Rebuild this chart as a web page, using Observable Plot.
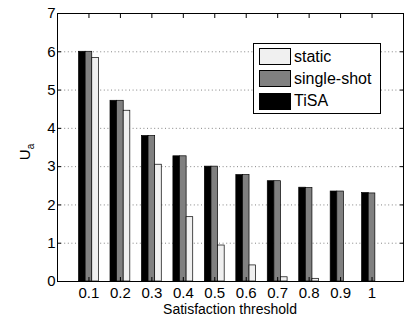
<!DOCTYPE html>
<html><head><meta charset="utf-8">
<script src="https://cdn.jsdelivr.net/npm/d3@7"></script>
<script src="https://cdn.jsdelivr.net/npm/@observablehq/plot@0.6"></script>
<style>
body{margin:0;background:#fff;}
#wrap{position:relative;width:408px;height:322px;font-family:"Liberation Sans",Arial,Helvetica,sans-serif;}
#legend{position:absolute;left:253px;top:43px;width:128px;height:71px;border:1px solid #000;background:#fff;box-sizing:border-box;font-size:16px;}
.row{position:absolute;left:5px;height:17px;display:flex;align-items:center;white-space:nowrap;}
.sw{width:32px;height:17px;border:1px solid #000;box-sizing:border-box;margin-right:3px;flex:none;}
</style></head><body><div id="wrap"></div>
<script>
const thresholds = ["0.1","0.2","0.3","0.4","0.5","0.6","0.7","0.8","0.9","1"];
const seriesNames = ["TiSA","single-shot","static"];
const tisa       = [6.00,4.72,3.80,3.27,3.00,2.78,2.62,2.45,2.35,2.31];
const singleShot = [6.00,4.72,3.80,3.27,3.00,2.78,2.62,2.44,2.35,2.30];
const staticVals = [5.84,4.46,3.05,1.68,0.94,0.42,0.11,0.07,0.00,0.00];
const yTicks = [0,1,2,3,4,5,6,7];
const seriesColors = ["#000000","#808080","#f0f0f0"];

const barW = 0.21;
const valuesBySeries = [tisa, singleShot, staticVals];
const table = [];
thresholds.forEach((t, i) => {
  valuesBySeries.forEach((vals, s) => {
    const c = i + 1 + (s - 1) * barW;
    table.push({threshold: t, series: seriesNames[s], value: vals[i], x1: c - barW / 2, x2: c + barW / 2});
  });
});
const xTickPos = thresholds.map((t, i) => i + 1);

const chart = Plot.plot({
  width: 408, height: 322,
  marginLeft: 57, marginRight: 5, marginTop: 13, marginBottom: 41,
  style: {fontFamily: "Liberation Sans, Arial, Helvetica, sans-serif", fontSize: "14px", color: "#000", background: "#fff", overflow: "visible"},
  x: {domain: [0, 11]},
  y: {domain: [0, 7]},
  color: {domain: seriesNames, range: seriesColors},
  marks: [
    Plot.gridY({ticks: yTicks.slice(1, 7), stroke: "#666", strokeOpacity: 1, strokeWidth: 0.8, strokeDasharray: "1,2.6"}),
    Plot.rect(table.filter(d => d.value > 0), {x1: "x1", x2: "x2", y1: 0, y2: "value", fill: "series", stroke: "#000", strokeWidth: 0.7}),
    Plot.frame({stroke: "#000", strokeWidth: 1}),
    Plot.axisY({ticks: yTicks, tickSize: 0, tickPadding: 2, tickFormat: d => String(d), label: null, fontSize: 15}),
    Plot.axisY({anchor: "left", ticks: yTicks.slice(1, 7), tickSize: -4, tickFormat: () => "", label: null}),
    Plot.axisY({anchor: "right", ticks: yTicks.slice(1, 7), tickSize: -4, tickFormat: () => "", label: null}),
    Plot.axisX({ticks: xTickPos, tickSize: 0, tickPadding: 6, tickFormat: (d) => thresholds[d - 1], label: null, fontSize: 15}),
    Plot.axisX({anchor: "bottom", ticks: xTickPos, tickSize: -4, tickFormat: () => "", label: null}),
    Plot.axisX({anchor: "top", ticks: xTickPos, tickSize: -4, tickFormat: () => "", label: null})
  ]
});

const wrap = document.getElementById("wrap");
wrap.appendChild(chart);

// x-axis title
d3.select(chart).append("text")
  .attr("x", 230).attr("y", 314)
  .attr("text-anchor", "middle")
  .attr("font-size", 14)
  .attr("fill", "#000")
  .text("Satisfaction threshold");

// y-axis title U_a
const yl = d3.select(chart).append("text")
  .attr("transform", "translate(29.5,152) rotate(-90)")
  .attr("text-anchor", "middle")
  .attr("font-size", 15)
  .attr("fill", "#000");
yl.append("tspan").text("U");
yl.append("tspan").attr("font-size", 10).attr("dy", 4).text("a");

// legend (order as in reference)
const legend = document.createElement("div");
legend.id = "legend";
const legendOrder = ["static", "single-shot", "TiSA"];
legendOrder.forEach((name, k) => {
  const row = document.createElement("div");
  row.className = "row";
  row.style.top = (4 + k * 22.3) + "px";
  const sw = document.createElement("div");
  sw.className = "sw";
  sw.style.background = seriesColors[seriesNames.indexOf(name)];
  const lab = document.createElement("span");
  lab.textContent = name;
  row.appendChild(sw); row.appendChild(lab);
  legend.appendChild(row);
});
wrap.appendChild(legend);
</script>
</body></html>
